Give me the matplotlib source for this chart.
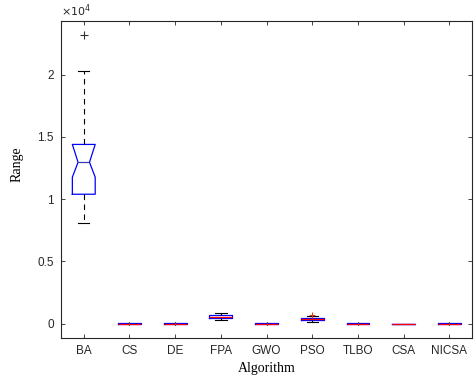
"""
Box plot of the Range statistic for nine optimisers (MATLAB-style notched boxes).
Summary stats read off the published figure, values in raw units.
"""
import matplotlib
matplotlib.use("Agg")
import matplotlib.pyplot as plt

algorithms = ["BA", "CS", "DE", "FPA", "GWO", "PSO", "TLBO", "CSA", "NICSA"]

# five-number summaries (raw values)
whislo = [8100, -120, -120, 280, -120, 150, -120, 0, -120]
q1 = [10400, 0, 0, 460, 0, 270, 0, 0, 0]
med = [12970, 10, 10, 580, 10, 340, 10, 0, 10]
q3 = [14400, 20, 20, 700, 20, 420, 20, 0, 20]
whishi = [20270, 160, 160, 870, 160, 600, 160, 0, 160]
fliers = [[23220], [], [], [], [], [720], [], [], []]
# notch interval only shown for BA
notch_lo = [11770]
notch_hi = [14400]

SCALE = 1e4

stats = []
for i, name in enumerate(algorithms):
    d = dict(label=name, whislo=whislo[i] / SCALE, q1=q1[i] / SCALE, med=med[i] / SCALE,
             q3=q3[i] / SCALE, whishi=whishi[i] / SCALE,
             fliers=[f / SCALE for f in fliers[i]])
    stats.append(d)

fig = plt.figure(figsize=(4.76, 3.85), dpi=100)
ax = fig.add_axes([0.128, 0.121, 0.864, 0.824])

box_kw = dict(
    boxprops=dict(color="blue", linewidth=0.9),
    whiskerprops=dict(color="black", linewidth=0.8, linestyle=(0, (5, 4))),
    capprops=dict(color="black", linewidth=0.8),
    medianprops=dict(color="red", linewidth=0.9),
    flierprops=dict(marker="+", markeredgecolor="#d04020", markersize=5, markeredgewidth=0.8),
    widths=0.5, capwidths=0.25, showfliers=True,
)

# BA drawn with notch, the rest plain
ba = dict(stats[0], cilo=notch_lo[0] / SCALE, cihi=notch_hi[0] / SCALE)
r = ax.bxp([ba], positions=[1], shownotches=True, **box_kw)
r["medians"][0].set_color("#3a3ab0")
r["fliers"][0].set_markeredgecolor("#333333")
r["fliers"][0].set_markersize(6)
r2 = ax.bxp(stats[1:], positions=range(2, len(algorithms) + 1), **box_kw)
# flat boxes: whiskers show as a short solid tick, caps hidden
for i in range(len(algorithms) - 1):
    if i in (2, 4):  # FPA, PSO keep their full box look
        continue
    for w in r2["whiskers"][2 * i:2 * i + 2]:
        w.set_linestyle("-")
        w.set_color("#555555")
    for c in r2["caps"][2 * i:2 * i + 2]:
        c.set_visible(False)

ax.set_xlim(0.5, 9.5)
ax.set_ylim(-0.118, 2.43)
ax.set_yticks([0, 0.5, 1, 1.5, 2])
ax.set_yticklabels(["0", "0.5", "1", "1.5", "2"])
ax.set_xticks(range(1, len(algorithms) + 1))
ax.set_xticklabels(algorithms)

for s in ax.spines.values():
    s.set_linewidth(0.8)
    s.set_color("#262626")
ax.tick_params(direction="in", top=True, right=True, length=3, width=0.6,
               labelsize=8.5, colors="#262626", pad=5)
for t in ax.get_xticklabels() + ax.get_yticklabels():
    t.set_family(["Liberation Sans", "DejaVu Sans"])

ax.text(0.0, 1.008, r"$\times10^{4}$", transform=ax.transAxes, fontsize=8,
        color="#262626", ha="left", va="bottom")

ax.set_xlabel("Algorithm", family="Liberation Serif", fontsize=10, labelpad=3)
ax.set_ylabel("Range", family="Liberation Serif", fontsize=10)
ax.yaxis.set_label_coords(-0.09, 0.55)

fig.savefig("out.png", dpi=100)
